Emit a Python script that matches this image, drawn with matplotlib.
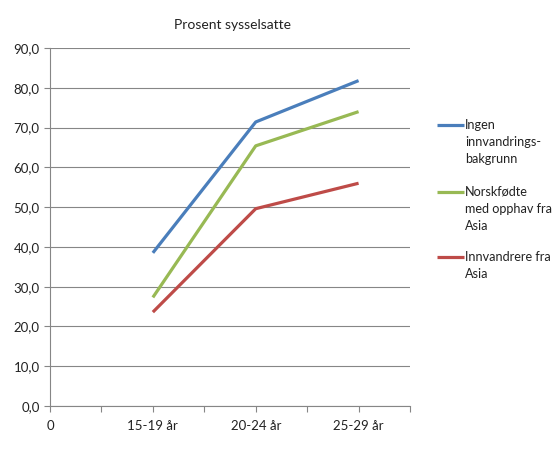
import matplotlib.pyplot as plt
import matplotlib.transforms as mtransforms
from matplotlib.lines import Line2D

plt.rcParams['font.family'] = ['Lato', 'DejaVu Sans']

categories = ['15-19 år', '20-24 år', '25-29 år']
series_names = ['Ingen\ninnvandrings-\nbakgrunn',
                'Norskfødte\nmed opphav fra\nAsia',
                'Innvandrere fra\nAsia']
ingen = [38.5, 71.4, 81.8]
norskfodte = [27.3, 65.4, 74.0]
innvandrere = [23.6, 49.6, 56.0]
colors = ['#4A7EBB', '#98B954', '#BE4B48']

fig = plt.figure(figsize=(5.6, 4.5), dpi=100)
ax = fig.add_axes([50/560, 1 - 406/450, 360/560, 358/450])

# kategoriene ligger paa hver andre tick
xpos = [2, 4, 6]
for vals, c in zip([ingen, norskfodte, innvandrere], colors):
    ax.plot(xpos, vals, color=c, lw=2.3, solid_capstyle='butt', zorder=3)

ax.set_xlim(0, 7)
ax.set_ylim(0, 90)
ax.set_yticks(range(0, 91, 10))
ax.set_yticklabels(['{:.1f}'.format(v).replace('.', ',') for v in range(0, 91, 10)])

ticklabels = ['0', '', categories[0], '', categories[1], '', categories[2], '']
ax.set_xticks(range(8))
ax.set_xticklabels(ticklabels)
shift = mtransforms.ScaledTranslation(6/100, 0, fig.dpi_scale_trans)
for lab in ax.get_xticklabels()[1:]:
    lab.set_transform(lab.get_transform() + shift)

ax.grid(axis='y', color='#868686', lw=0.8)
ax.set_axisbelow(True)
for s in ['top', 'right']:
    ax.spines[s].set_visible(False)
for s in ['left', 'bottom']:
    ax.spines[s].set_color('#868686')
    ax.spines[s].set_linewidth(0.8)
ax.tick_params(colors='#868686', length=4, width=0.8, labelsize=9.5,
               labelcolor='#222222')
ax.tick_params(axis='x', pad=6)

fig.text(233/560, 1 - 25/450, 'Prosent sysselsatte', ha='center', va='center',
         fontsize=10, color='#222222')

# legende
legend_y = [125, 192, 257]
for name, c, y in zip(series_names, colors, legend_y):
    fig.add_artist(Line2D([437/560, 464/560], [1 - y/450, 1 - y/450],
                          color=c, lw=2.3, solid_capstyle='butt'))
    fig.text(465/560, 1 - (y - 6)/450, name, ha='left', va='top',
             fontsize=9.1, color='#222222', linespacing=1.5)

fig.savefig('out.png', dpi=100)
